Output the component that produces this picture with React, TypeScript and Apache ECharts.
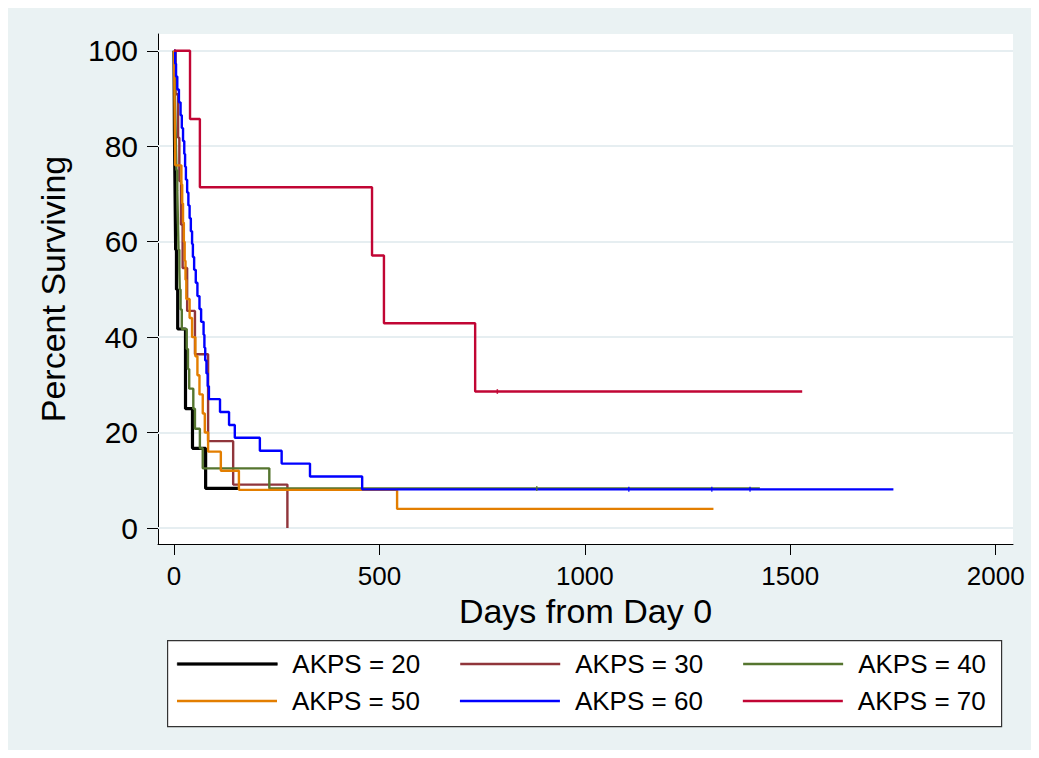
import React, { useEffect, useRef } from "react";
import * as echarts from "echarts";

// Kaplan-Meier estimates (days, percent surviving)
const akps20Days = [0, 0.5, 1, 2, 3, 4, 6, 9, 28, 45, 77, 160];
const akps20Pct = [100, 91.7, 83.3, 75, 66.7, 58.3, 50, 41.7, 25, 16.7, 8.3, 8.3];

const akps30Days = [0, 4, 10, 13, 17, 21, 32, 51, 83, 144, 276];
const akps30Pct = [100, 90.9, 81.8, 72.7, 63.6, 54.5, 45.5, 36.4, 18.2, 9.1, 0];

const akps40Days = [0, 1, 2, 3, 4, 5, 6, 8, 9, 10, 11, 13, 14, 16, 19, 31, 34, 37, 47, 51, 63, 70, 232, 1426];
const akps40Pct = [100, 95.8, 91.7, 87.5, 83.3, 79.2, 75, 70.8, 66.7, 62.5, 58.3, 54.2, 50, 45.8, 41.7, 37.5, 33.3, 29.2, 25, 20.8, 16.7, 12.5, 8.3, 8.3];

const akps50Days = [0, 0.5, 1, 1.5, 2, 2.5, 3, 18, 20, 22, 24, 26, 28, 30, 38, 44, 52, 57, 62, 70, 75, 83, 114, 158, 543, 1313];
const akps50Pct = [100, 96, 92, 88, 84, 80, 76, 72, 68, 64, 60, 56, 52, 48, 44, 40, 36, 32, 28, 24, 20, 16, 12, 8, 4, 4];

const akps60Days = [0, 3, 5, 8, 12, 16, 19, 22, 25, 27, 29, 32, 35, 38, 41, 44, 46, 49, 53, 57, 62, 66, 72, 74, 76, 79, 82, 85, 112, 134, 148, 209, 262, 331, 458, 1751];
const akps60Pct = [100, 97.3, 94.6, 91.9, 89.2, 86.5, 83.8, 81.1, 78.4, 75.7, 73.0, 70.3, 67.6, 64.9, 62.2, 59.5, 56.8, 54.1, 51.4, 48.6, 45.9, 43.2, 40.5, 37.8, 35.1, 32.4, 29.7, 27.0, 24.3, 21.6, 18.9, 16.2, 13.5, 10.8, 8.1, 8.1];

const akps70Days = [0, 39, 63, 482, 511, 733, 1529];
const akps70Pct = [100, 85.7, 71.4, 57.1, 42.9, 28.6, 28.6];

// censoring marks
const censor40 = [[883, 8.3]];
const censor60 = [[1107, 8.1], [1309, 8.1], [1402, 8.1]];
const censor70 = [[787, 28.6]];

const seriesNames = ["AKPS = 20", "AKPS = 30", "AKPS = 40", "AKPS = 50", "AKPS = 60", "AKPS = 70"];
const seriesColors = ["#000000", "#90353B", "#55752F", "#E37E00", "#0000FF", "#C10534"];
const seriesWidths = [3.2, 2.4, 2.4, 2.4, 2.4, 2.4];

const xTicks = [0, 500, 1000, 1500, 2000];
const yTicks = [0, 20, 40, 60, 80, 100];

const FONT = "'Liberation Sans', Arial, Helvetica, sans-serif";

export default function App() {
  const ref = useRef<HTMLDivElement>(null);

  useEffect(() => {
    if (!ref.current) return;
    const chart = echarts.init(ref.current, undefined, { renderer: "svg" });

    const allDays = [akps20Days, akps30Days, akps40Days, akps50Days, akps60Days, akps70Days];
    const allPct = [akps20Pct, akps30Pct, akps40Pct, akps50Pct, akps60Pct, akps70Pct];

    const lineSeries: any[] = seriesNames.map((name, k) => ({
      name,
      type: "line",
      step: "end",
      symbol: "none",
      z: 3,
      data: allDays[k].map((d, i) => [d, allPct[k][i]]),
      lineStyle: { color: seriesColors[k], width: seriesWidths[k] },
      itemStyle: { color: seriesColors[k] },
    }));

    const censorSeries: any[] = [
      { data: censor40, color: seriesColors[2] },
      { data: censor60, color: seriesColors[4] },
      { data: censor70, color: seriesColors[5] },
    ].map((c) => ({
      type: "scatter",
      symbol: "rect",
      symbolSize: [1.5, 5],
      z: 4,
      data: c.data,
      itemStyle: { color: c.color },
      silent: true,
    }));

    const gridSeries = {
      type: "line",
      data: [],
      silent: true,
      markLine: {
        silent: true,
        symbol: "none",
        z: 1,
        label: { show: false },
        lineStyle: { color: "#E6EEF1", width: 2, type: "solid" },
        data: yTicks.map((v) => ({ yAxis: v })),
      },
    };

    const legendItem = (k: number) => ({
      name: seriesNames[k],
      icon: "rect",
      itemStyle:
        k === 0
          ? { color: seriesColors[k], borderColor: seriesColors[k], borderWidth: 0.6 }
          : { color: seriesColors[k], borderWidth: 0 },
    });

    const legendCommon = {
      itemWidth: 100,
      itemHeight: 2.6,
      itemGap: 40,
      padding: 0,
      textStyle: { fontSize: 26, color: "#000", fontFamily: FONT, padding: [0, 0, 0, 10], lineHeight: 30 },
    };

    chart.setOption({
      animation: false,
      backgroundColor: "#EAF2F3",
      textStyle: { fontFamily: FONT },
      grid: {
        left: 150,
        right: 18,
        top: 26,
        bottom: 206,
        show: true,
        backgroundColor: "#ffffff",
        borderWidth: 0,
      },
      xAxis: {
        type: "value",
        min: -38.94,
        max: 2042.1,
        name: "Days from Day 0",
        nameLocation: "middle",
        nameGap: 42,
        nameTextStyle: { fontSize: 34, color: "#000", fontFamily: FONT },
        axisLine: { show: true, onZero: false, lineStyle: { color: "#000", width: 1 } },
        axisTick: { show: true, length: 11, customValues: xTicks, lineStyle: { color: "#000", width: 1 } },
        axisLabel: {
          customValues: xTicks,
          fontSize: 26,
          color: "#000",
          margin: 19,
          fontFamily: FONT,
          formatter: (v: number) => String(v),
        },
        splitLine: { show: false },
      },
      yAxis: {
        type: "value",
        min: -3.35,
        max: 103.52,
        name: "Percent Surviving",
        nameLocation: "middle",
        nameGap: 88,
        nameTextStyle: { fontSize: 34, color: "#000", fontFamily: FONT },
        axisLine: { show: true, onZero: false, lineStyle: { color: "#000", width: 1 } },
        axisTick: { show: true, length: 11, customValues: yTicks, lineStyle: { color: "#000", width: 1 } },
        axisLabel: {
          customValues: yTicks,
          fontSize: 30,
          color: "#000",
          margin: 20,
          fontFamily: FONT,
          formatter: (v: number) => String(v),
        },
        splitLine: { show: false },
      },
      legend: [
        { ...legendCommon, left: 169, top: 641, data: [0, 1, 2].map(legendItem) },
        { ...legendCommon, left: 169, top: 678, data: [3, 4, 5].map(legendItem) },
      ],
      graphic: [
        {
          type: "rect",
          left: 159,
          top: 632,
          z: 0,
          shape: { width: 834, height: 86 },
          style: { fill: "#ffffff", stroke: "#333333", lineWidth: 1.2 },
        },
      ],
      series: [gridSeries, ...lineSeries, ...censorSeries],
    });

    return () => chart.dispose();
  }, []);

  return <div ref={ref} style={{ width: 1023, height: 742 }} />;
}
